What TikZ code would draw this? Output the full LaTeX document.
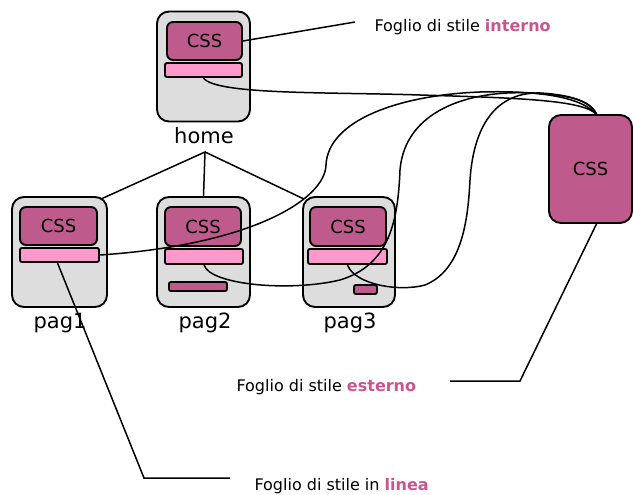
\documentclass[tikz,border=0pt]{standalone}
\usepackage{fontspec}
\setmainfont{DejaVu Sans}
\definecolor{cssdark}{HTML}{BF5A8C}
\definecolor{csspink}{HTML}{FF99CC}
\definecolor{pagegray}{HTML}{DDDDDD}
\definecolor{notemag}{HTML}{C8558F}

\begin{document}
\begin{tikzpicture}[x=1pt,y=-1pt,
    page/.style={draw,line width=1.9pt,fill=pagegray,rounded corners=12pt,minimum width=93pt,minimum height=110pt},
    cssbox/.style={draw,line width=1.9pt,fill=cssdark,rounded corners=6pt,minimum width=76pt,minimum height=38pt,
                   inner sep=0pt,font=\fontsize{18}{20}\selectfont},
    bar/.style={draw,line width=1.9pt,fill=csspink,rounded corners=2pt,minimum width=78pt,minimum height=14pt,inner sep=0pt},
    mini/.style={draw,line width=1.9pt,fill=cssdark,rounded corners=2pt,minimum height=9pt,inner sep=0pt},
    pagelbl/.style={font=\fontsize{21}{24}\selectfont},
    note/.style={anchor=west,font=\fontsize{16}{19}\selectfont},
    link/.style={line width=1.5pt}]
    \useasboundingbox (0,0) rectangle (633,495);

    % home page
    \node[page] (pgh) at (203.5,66.5) {};
    \node[cssbox,minimum width=75pt] (cssh) at (204.5,41) {CSS};
    \node[bar,minimum width=77pt] (barh) at (203.5,70) {};
    \node[pagelbl] (lblh) at (204,136) {home};

    % pag1
    \node[page,minimum width=95pt] (pg1) at (59.5,252) {};
    \node[cssbox,minimum width=77pt] (css1) at (58.5,226) {CSS};
    \node[bar,minimum width=79pt] (bar1) at (59.5,255) {};
    \node[pagelbl] (lbl1) at (60,323) {pag1};

    % pag2
    \node[page] (pg2) at (203.5,252) {};
    \node[cssbox,minimum height=39pt] (css2) at (203,226.5) {CSS};
    \node[bar,minimum height=15pt] (bar2) at (204,256.5) {};
    \node[mini,minimum width=58pt] (mini2) at (198,286.5) {};
    \node[pagelbl] (lbl2) at (205,323) {pag2};

    % pag3
    \node[page,minimum width=92pt] (pg3) at (349,252) {};
    \node[cssbox,minimum height=39pt] (css3) at (348,226.5) {CSS};
    \node[bar,minimum width=79pt,minimum height=15pt] (bar3) at (347.5,256.5) {};
    \node[mini,minimum width=23pt] (mini3) at (365.5,289.5) {};
    \node[pagelbl] (lbl3) at (350,323) {pag3};

    % external style sheet
    \node[draw,line width=1.9pt,fill=cssdark,rounded corners=12pt,minimum width=83pt,minimum height=108pt,
          font=\fontsize{18}{20}\selectfont] (ext) at (590.5,169) {CSS};

    % notes
    \node[note] (nint) at (371,27) {Foglio di stile \textcolor{notemag}{\textbf{interno}}};
    \node[note] (next) at (233,387) {Foglio di stile \textcolor{notemag}{\textbf{esterno}}};
    \node[note] (nlin) at (251,486) {Foglio di stile in \textcolor{notemag}{\textbf{linea}}};

    \coordinate (hub) at (597,115);    % where the links meet on the external sheet
    \coordinate (fork) at (205,152);   % below the home label
    \coordinate (intend) at (355,22);
    \coordinate (extbend) at (520,381);
    \coordinate (extend) at (450,381);
    \coordinate (linbend) at (144,478);
    \coordinate (linend) at (230,478);

    % site tree
    \draw[link] ([xshift=-7pt,yshift=-3pt]pg1.north east) -- (fork) -- (pg2.north);
    \draw[link] (fork) -- ([xshift=2pt,yshift=-3pt]pg3.north west);

    % links to the external sheet
    \draw[link] (barh.south) .. controls (215,95) and (330,92) .. (420,95)
                             .. controls (520,98) and (585,100) .. (hub);
    \draw[link] (bar1.east) .. controls (250,245) and (325,200) .. (326,165)
                            .. controls (328,120) and (400,95) .. (480,92)
                            .. controls (550,90) and (585,100) .. (hub);
    \draw[link] (bar2.south) .. controls (210,285) and (290,292) .. (340,280)
                             .. controls (390,265) and (398,220) .. (400,170)
                             .. controls (405,110) and (470,90) .. (530,93)
                             .. controls (570,95) and (590,100) .. (hub);
    \draw[link] (bar3.south) .. controls (355,285) and (400,292) .. (425,285)
                             .. controls (462,270) and (468,220) .. (470,180)
                             .. controls (474,120) and (500,92) .. (540,93)
                             .. controls (575,95) and (592,103) .. (hub);

    % pointers to the notes
    \draw[link] (cssh.east) -- (intend);
    \draw[link] ([xshift=6pt]ext.south) -- (extbend) -- (extend);
    \draw[link] ([xshift=-2pt]bar1.south) -- (linbend) -- (linend);
\end{tikzpicture}
\end{document}
